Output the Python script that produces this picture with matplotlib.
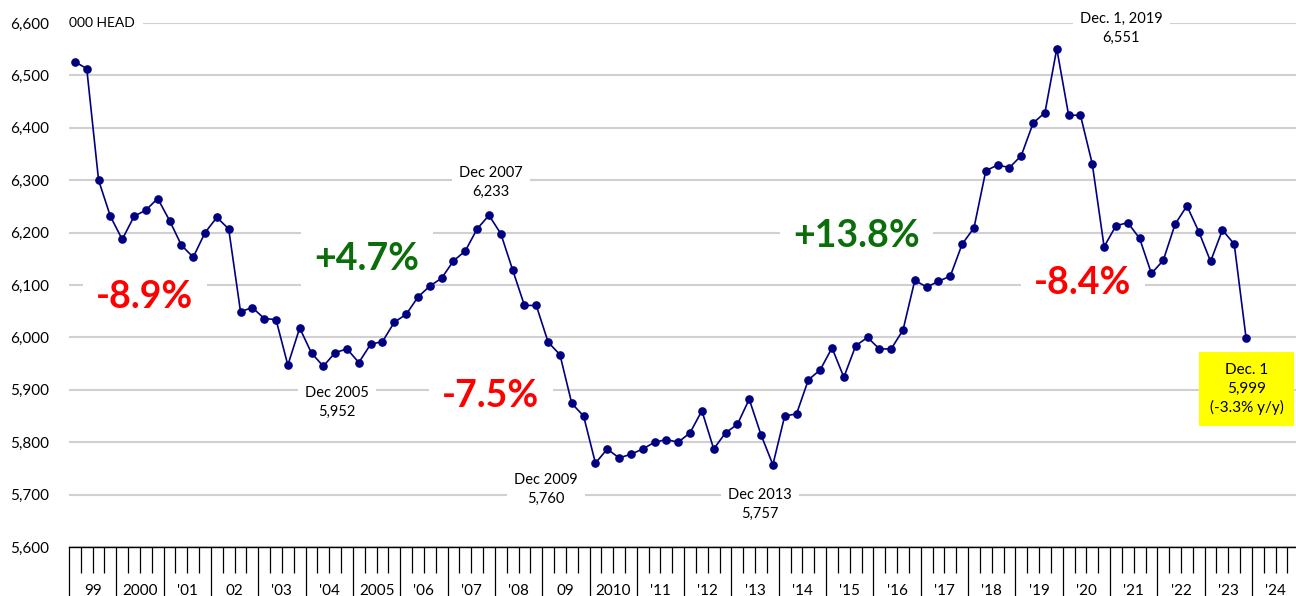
import numpy as np
import matplotlib.pyplot as plt

plt.rcParams['font.family'] = ['Lato', 'DejaVu Sans']

# quarterly inventory, 000 head, Mar 1999 .. Dec 2023 (4 per year)
head = [
    6526, 6513, 6300, 6231, 6187, 6231, 6243, 6265, 6223, 6176,
    6153, 6200, 6229, 6207, 6049, 6057, 6036, 6034, 5947, 6018,
    5970, 5945, 5971, 5978, 5952, 5987, 5992, 6029, 6044, 6077,
    6098, 6113, 6146, 6165, 6207, 6233, 6198, 6129, 6061, 6061,
    5991, 5967, 5874, 5850, 5760, 5787, 5770, 5777, 5787, 5800,
    5805, 5800, 5818, 5860, 5787, 5818, 5834, 5882, 5814, 5757,
    5850, 5854, 5919, 5938, 5980, 5924, 5984, 6000, 5978, 5978,
    6014, 6109, 6096, 6107, 6117, 6178, 6209, 6318, 6329, 6324,
    6347, 6409, 6429, 6551, 6424, 6424, 6331, 6173, 6213, 6219,
    6189, 6122, 6147, 6216, 6251, 6202, 6145, 6205, 6178, 5999,
]

year_labels = ['99', '2000', "'01", '02', "'03", "'04", '2005', "'06", "'07",
               "'08", '09', '2010', "'11", "'12", "'13", "'14", "'15", "'16",
               "'17", "'18", "'19", "'20", "'21", "'22", "'23", "'24"]

yticks = list(range(5600, 6601, 100))

fig = plt.figure(figsize=(12.96, 5.96), dpi=100)
ax = fig.add_axes([69 / 1296, 49 / 596, 1230.3 / 1296, 524 / 596])

x = np.arange(len(head)) + 0.5
ax.plot(x, head, color='#000080', lw=1.2, marker='o', ms=5.2, zorder=4)

ax.set_xlim(0, 4 * len(year_labels))
ax.set_ylim(yticks[0], yticks[-1])

ax.set_yticks(yticks)
ax.set_yticklabels([f'{v:,}' for v in yticks])
ax.tick_params(axis='y', length=0, pad=14, labelsize=11)
ax.yaxis.grid(True, color='#d0d0d0', lw=1.5)
ax.set_axisbelow(True)

for s in ['top', 'right', 'left']:
    ax.spines[s].set_visible(False)
ax.spines['bottom'].set_linewidth(1.0)

ax.set_xticks(np.arange(0, 4 * len(year_labels) + 1, 4))
ax.set_xticks([q for q in range(4 * len(year_labels)) if q % 4], minor=True)
ax.tick_params(axis='x', which='major', length=45, width=0.9, labelbottom=False)
ax.tick_params(axis='x', which='minor', length=19, width=0.9)

for k, lab in enumerate(year_labels):
    ax.text(4 * k + 2, -0.091, lab, transform=ax.get_xaxis_transform(),
            ha='center', va='baseline', fontsize=11, clip_on=False)

white = dict(boxstyle='square,pad=0.35', fc='white', ec='none')

ax.text(0, 6600, '000 HEAD', ha='left', va='center', fontsize=10, zorder=2,
        bbox=dict(boxstyle='square,pad=0.6', fc='white', ec='none'))

big = [('-8.9%', 6.42, 6077, '#ff0000'),
       ('+4.7%', 25.19, 6150, '#0b6e0b'),
       ('-7.5%', 35.67, 5888, '#ff0000'),
       ('+13.8%', 66.57, 6194, '#0b6e0b'),
       ('-8.4%', 85.71, 6104, '#ff0000')]
for txt, bx, by, col in big:
    ax.text(bx, by, txt, ha='center', va='center', fontsize=27, zorder=2,
            fontweight='bold', color=col, bbox=white)

notes = [('Dec 2005\n5,952', 22.65, 5875),
         ('Dec 2007\n6,233', 35.7, 6295),
         ('Dec 2009\n5,760', 40.32, 5709),
         ('Dec 2013\n5,757', 58.41, 5682),
         ('Dec. 1, 2019\n6,551', 88.97, 6590)]
for txt, nx, ny in notes:
    ax.text(nx, ny, txt, ha='center', va='center', fontsize=10.5, zorder=2,
            linespacing=1.45, bbox=dict(boxstyle='square,pad=0.5', fc='white', ec='none'))

ax.text(99.55, 5901, 'Dec. 1\n5,999\n(-3.3% y/y)', ha='center', va='center',
        fontsize=11, linespacing=1.4, zorder=2,
        bbox=dict(boxstyle='square,pad=0.7', fc='#ffff00', ec='none'))

fig.savefig('out.png', dpi=100)
